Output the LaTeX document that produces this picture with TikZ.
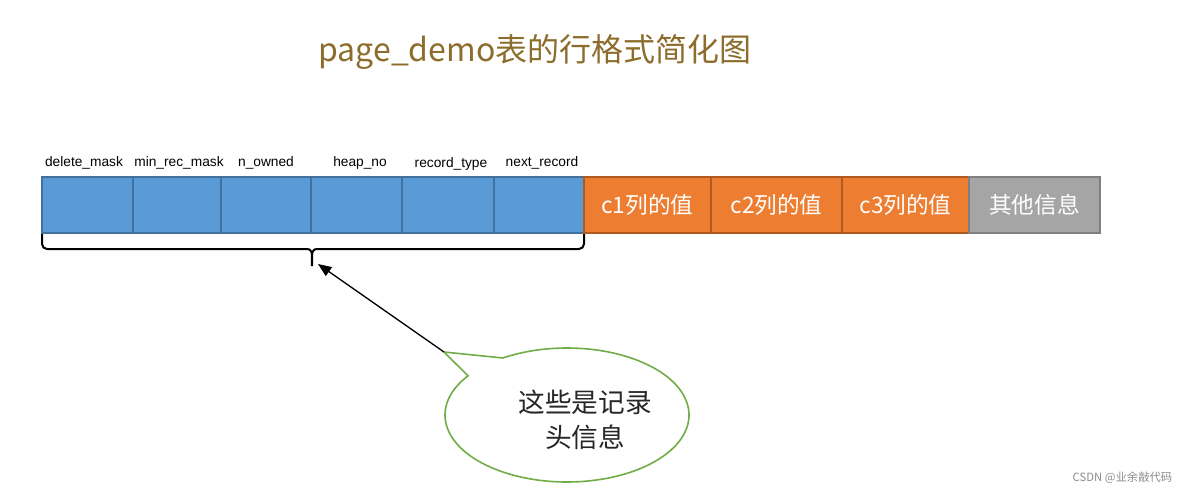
\documentclass[tikz,border=0pt]{standalone}
\usepackage{fontspec}
\setmainfont{Noto Sans CJK SC}
\newfontfamily\lab{Liberation Sans}
\usetikzlibrary{arrows.meta,calc}
\definecolor{blueF}{HTML}{5B9BD5}
\definecolor{blueD}{HTML}{41719C}
\definecolor{orgF}{HTML}{ED7D31}
\definecolor{orgD}{HTML}{AE5A21}
\definecolor{grF}{HTML}{A5A5A5}
\definecolor{grD}{HTML}{7F7F7F}
\definecolor{titleC}{HTML}{8C6D2C}
\definecolor{callG}{HTML}{70AD47}
\tikzset{
  fld/.style={draw=blueD, fill=blueF, line width=0.9pt},
  ofld/.style={draw=orgD, fill=orgF, line width=0.9pt, text=white, font=\fontsize{17}{19}\selectfont},
  gfld/.style={draw=grD, fill=grF, line width=0.9pt, text=white, font=\fontsize{17}{19}\selectfont},
  lbl/.style={font=\lab\fontsize{10.3}{12}\selectfont, text=black, anchor=base},
}
\begin{document}
\begin{tikzpicture}[x=0.75pt,y=-0.75pt]
\useasboundingbox (0,0) rectangle (1184,489);
\fill[white] (0,0) rectangle (1184,489);
% title
\node[text=titleC, font=\fontsize{24}{28}\selectfont] (title) at (535,52) {page\_demo表的行格式简化图};
% header fields
\foreach \a/\b in {42/133,133/221,221/311,311/402,402/494,494/584}{
  \path[fld] (\a,177) rectangle (\b,233);
}
\node[lbl] (l1) at (84,166) {delete\_mask};
\node[lbl] (l2) at (179,166) {min\_rec\_mask};
\node[lbl] (l3) at (266,166) {n\_owned};
\node[lbl] (l4) at (360,166) {heap\_no};
\node[lbl] (l5) at (451,167) {record\_type};
\node[lbl] (l6) at (542,166) {next\_record};
% columns
\node[ofld, minimum width=127*0.75pt, minimum height=56*0.75pt, inner sep=0pt] (c1) at (647.5,205) {c1列的值};
\node[ofld, minimum width=131*0.75pt, minimum height=56*0.75pt, inner sep=0pt] (c2) at (776.5,205) {c2列的值};
\node[ofld, minimum width=127*0.75pt, minimum height=56*0.75pt, inner sep=0pt] (c3) at (905.5,205) {c3列的值};
\node[gfld, minimum width=131*0.75pt, minimum height=56*0.75pt, inner sep=0pt] (oth) at (1034.5,205) {其他信息};
% brace
\coordinate (btip) at (312,266);
\draw[line width=1.5pt] (42,234) -- (42,244) to[out=-90,in=180] (47,249) -- (307,249) to[out=0,in=90] (btip);
\draw[line width=1.5pt] (584,234) -- (584,244) to[out=-90,in=0] (579,249) -- (317,249) to[out=180,in=90] (btip);
% callout
\coordinate (cc) at (567,415);
\coordinate (tip) at (444,352);
\coordinate (B1) at ($(cc)+(238.3:122 and 67)$);
\draw[callG, line width=1.2pt, fill=white] (B1) -- (tip) -- ($(cc)+(215.8:122 and 67)$) arc[start angle=215.8, end angle=238.3-360, x radius=122, y radius=67] -- cycle;
\node[align=center, font=\fontsize{20}{26}\selectfont, text=black!85] (ctext) at (585,420) {这些是记录\\头信息};
\coordinate (atip) at (318,264);
\draw[line width=1pt, -{Triangle[length=10pt, width=8pt]}] (tip) -- (atip);
% watermark
\node[text=black!45, font=\fontsize{8.5}{10}\selectfont, anchor=east] (wm) at (1177,478) {CSDN @业余敲代码};
\end{tikzpicture}
\end{document}
